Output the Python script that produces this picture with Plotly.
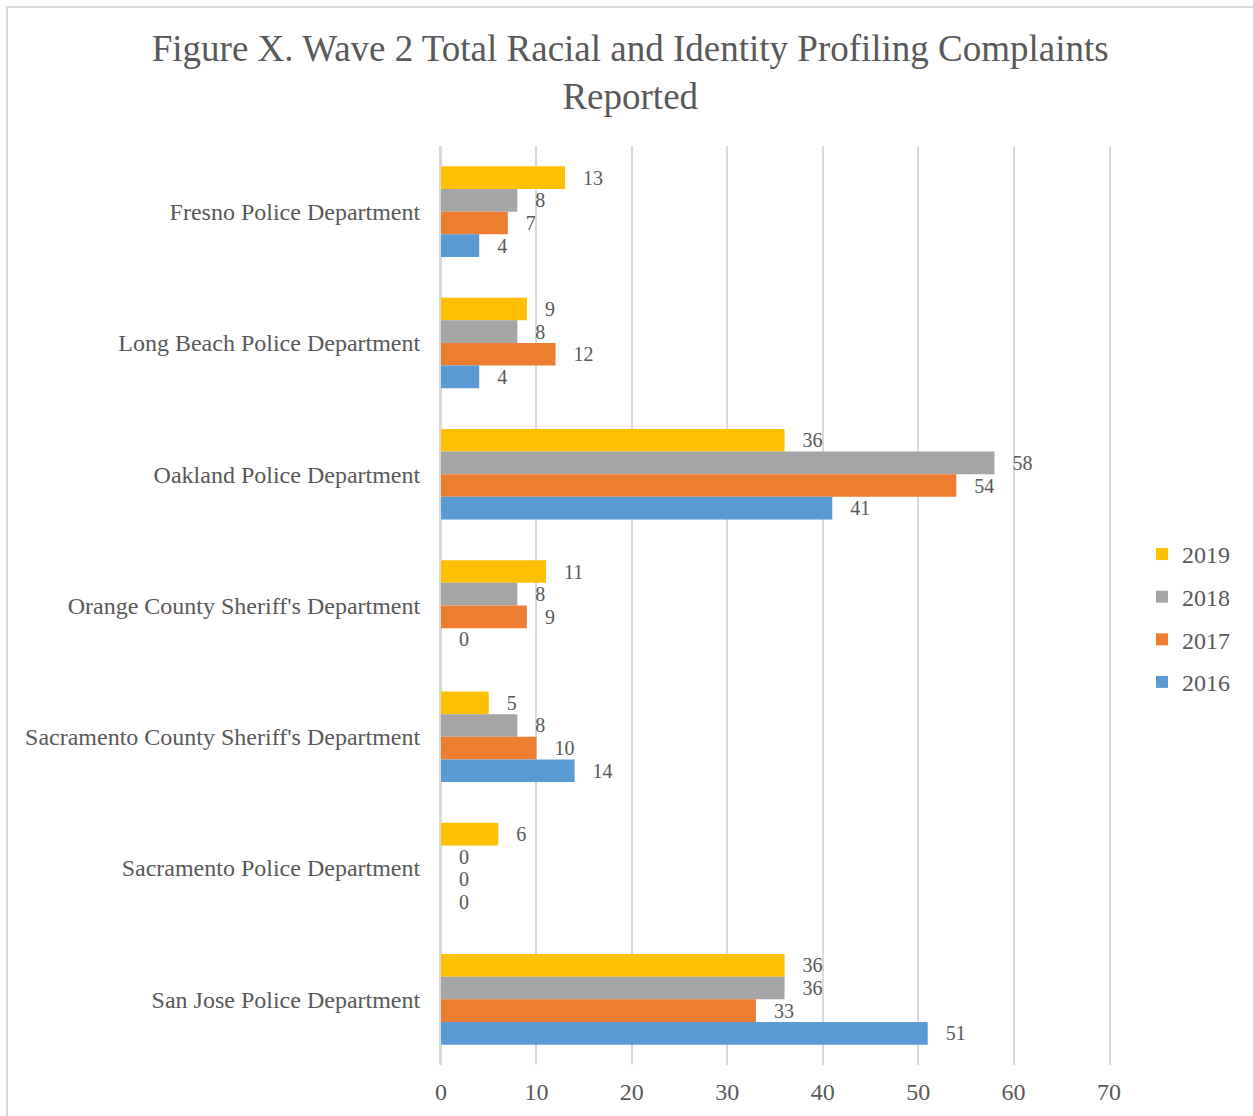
import plotly.graph_objects as go

categories = [
    "Fresno Police Department",
    "Long Beach Police Department",
    "Oakland Police Department",
    "Orange County Sheriff's Department",
    "Sacramento County Sheriff's Department",
    "Sacramento Police Department",
    "San Jose Police Department",
]
years = ["2019", "2018", "2017", "2016"]
v2019 = [13, 9, 36, 11, 5, 6, 36]
v2018 = [8, 8, 58, 8, 8, 0, 36]
v2017 = [7, 12, 54, 9, 10, 0, 33]
v2016 = [4, 4, 41, 0, 14, 0, 51]
series = [v2019, v2018, v2017, v2016]
colors = ["#FFC000", "#A5A5A5", "#ED7D31", "#5B9BD5"]

FONT = "Liberation Serif, Times New Roman, serif"
GREY = "#595959"
GRID = "#D9D9D9"

fig = go.Figure()
for i, (yr, vals, col) in enumerate(zip(years, series, colors)):
    fig.add_trace(go.Bar(
        y=categories, x=vals, name=yr, orientation="h",
        marker=dict(color=col, line=dict(width=0)),
        text=[f"   {v}" for v in vals], textposition="outside",
        textfont=dict(family=FONT, size=20, color=GREY),
        cliponaxis=False, legendgroup=yr,
    ))

L, R, T, B = 441, 1109, 146, 1065
W, H = 1253, 1116
pw, ph = R - L, B - T

fig.update_layout(
    width=W, height=H,
    margin=dict(l=L, r=W - R, t=T, b=H - B, pad=0),
    paper_bgcolor="white", plot_bgcolor="white",
    barmode="group", bargap=0.31, bargroupgap=0,
    font=dict(family=FONT, color=GREY),
    title=dict(
        text="Figure X. Wave 2 Total Racial and Identity Profiling Complaints<br>Reported",
        x=0.503, xanchor="center", y=1 - 61 / H, yanchor="top",
        font=dict(family=FONT, size=37, color=GREY),
    ),
    xaxis=dict(
        range=[0, 70], dtick=10, tick0=0, automargin=False,
        showgrid=True, gridcolor=GRID, gridwidth=2,
        zeroline=True, zerolinecolor=GRID, zerolinewidth=2,
        showline=False, ticks="", ticklabelstandoff=10,
        tickfont=dict(family=FONT, size=24, color=GREY),
    ),
    yaxis=dict(
        autorange="reversed", type="category", automargin=False,
        showgrid=False, showline=True, mirror=True,
        linecolor=GRID, linewidth=2, ticks="",
        ticklabelstandoff=14,
        tickfont=dict(family=FONT, size=24, color=GREY),
    ),
    legend=dict(
        x=(1142 - L) / pw, xanchor="left",
        y=(B - 532) / ph, yanchor="top",
        font=dict(family=FONT, size=24, color=GREY),
        tracegroupgap=8.4, itemwidth=30,
        bgcolor="rgba(0,0,0,0)",
    ),
    shapes=[dict(
        type="rect", xref="paper", yref="paper",
        x0=(7 - L) / pw, x1=(W + 10 - L) / pw,
        y0=(B - H - 10) / ph, y1=(B - 7) / ph,
        line=dict(color=GRID, width=2), layer="below",
    )],
)

fig.write_html(
    "out.html",
    config={"displayModeBar": False},
    post_script="document.body.style.margin='0';document.body.style.overflow='hidden';",
)
